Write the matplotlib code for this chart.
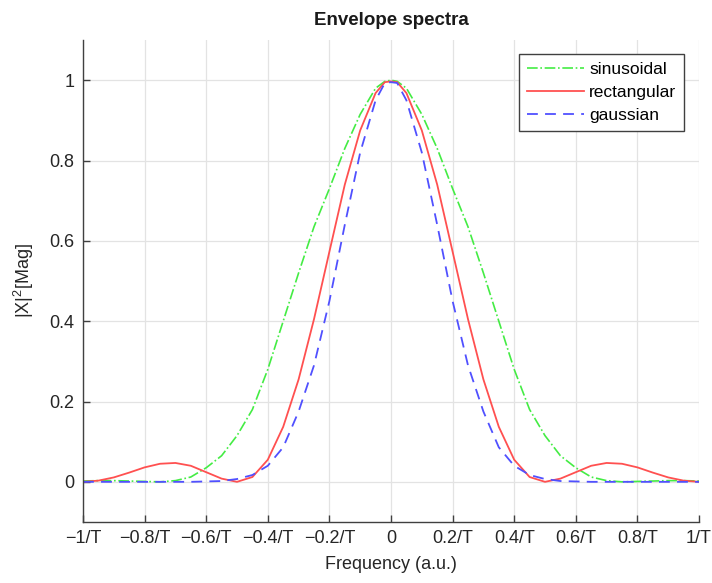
import matplotlib
matplotlib.use("Agg")
import matplotlib.pyplot as plt
import numpy as np

plt.rcParams['font.family'] = ['Liberation Sans', 'DejaVu Sans']
plt.rcParams['mathtext.fontset'] = 'custom'
plt.rcParams['mathtext.rm'] = 'Liberation Sans'
plt.rcParams['mathtext.it'] = 'Liberation Sans'

# frequency samples (units of 1/T)
freq = [-1.0, -0.95, -0.9, -0.85, -0.8, -0.75, -0.7, -0.65, -0.6, -0.55, -0.5,
        -0.45, -0.4, -0.35, -0.3, -0.25, -0.2, -0.15, -0.1, -0.05, -0.02, 0.0, 0.02,
        0.05, 0.1, 0.15, 0.2, 0.25, 0.3, 0.35, 0.4, 0.45, 0.5,
        0.55, 0.6, 0.65, 0.7, 0.75, 0.8, 0.85, 0.9, 0.95, 1.0]

sinusoidal = [0.002, 0.003, 0.003, 0.002, 0.001, 0.0, 0.003, 0.012, 0.035, 0.065, 0.115,
              0.18, 0.28, 0.40, 0.52, 0.635, 0.73, 0.83, 0.915, 0.98, 0.997, 1.0, 0.997,
              0.98, 0.915, 0.83, 0.73, 0.635, 0.52, 0.40, 0.28, 0.18, 0.115,
              0.065, 0.035, 0.012, 0.003, 0.0, 0.001, 0.002, 0.003, 0.003, 0.002]

rectangular = [0.0, 0.003, 0.011, 0.023, 0.036, 0.045, 0.047, 0.04, 0.024, 0.008, 0.0,
               0.012, 0.055, 0.137, 0.255, 0.405, 0.573, 0.74, 0.875, 0.968, 0.995, 0.997, 0.995,
               0.968, 0.875, 0.74, 0.573, 0.405, 0.255, 0.137, 0.055, 0.012, 0.0,
               0.008, 0.024, 0.04, 0.047, 0.045, 0.036, 0.023, 0.011, 0.003, 0.0]

gaussian = [0.0, 0.0, 0.0, 0.0, 0.0, 0.0, 0.0, 0.0, 0.001, 0.002, 0.007,
            0.017, 0.04, 0.086, 0.175, 0.29, 0.45, 0.64, 0.82, 0.95, 0.993, 0.995, 0.993,
            0.95, 0.82, 0.64, 0.45, 0.29, 0.175, 0.086, 0.04, 0.017, 0.007,
            0.002, 0.001, 0.0, 0.0, 0.0, 0.0, 0.0, 0.0, 0.0, 0.0]

xtick_vals = [-1, -0.8, -0.6, -0.4, -0.2, 0, 0.2, 0.4, 0.6, 0.8, 1]
xtick_labels = ['\u22121/T', '\u22120.8/T', '\u22120.6/T', '\u22120.4/T', '\u22120.2/T', '0',
                '0.2/T', '0.4/T', '0.6/T', '0.8/T', '1/T']
ytick_vals = [0, 0.2, 0.4, 0.6, 0.8, 1]
ytick_labels = ['0', '0.2', '0.4', '0.6', '0.8', '1']

fig = plt.figure(figsize=(7.12, 5.83), dpi=100)
ax = fig.add_axes([83/712, 61/583, 616/712, 482/583])

ax.plot(freq, sinusoidal, linestyle='-.', color='#44ec44', lw=1.2, label='sinusoidal')
ax.plot(freq, rectangular, linestyle='-', color='#ff5050', lw=1.3, label='rectangular')
ax.plot(freq, gaussian, linestyle=(0, (6, 4)), color='#5050ff', lw=1.3, label='gaussian')

ax.set_xlim(-1, 1)
ax.set_ylim(-0.1, 1.1)
ax.set_xticks(xtick_vals)
ax.set_xticklabels(xtick_labels)
ax.set_yticks(ytick_vals)
ax.set_yticklabels(ytick_labels)

ax.grid(True, color='#e3e3e3', lw=0.9)
ax.set_axisbelow(True)
for s in ['top', 'right']:
    ax.spines[s].set_visible(False)
for s in ['left', 'bottom']:
    ax.spines[s].set_color('#404040')
    ax.spines[s].set_linewidth(1.0)
ax.tick_params(direction='in', length=5, width=1.0, color='#404040',
               labelsize=13, labelcolor='#262626', pad=6)

ax.set_title('Envelope spectra', fontsize=13.5, fontweight='bold', color='#1a1a1a', pad=11)
ax.set_xlabel('Frequency (a.u.)', fontsize=13, color='#262626', labelpad=6)
ax.set_ylabel('|X|$^{2}$[Mag]', fontsize=13, color='#262626', labelpad=10)

leg = ax.legend(loc='upper right', bbox_to_anchor=(601/616, 468/482), borderaxespad=0,
                fontsize=12.5, handlelength=3.3, frameon=True, fancybox=False,
                edgecolor='#404040', framealpha=1, labelspacing=0.45,
                handletextpad=0.3, borderpad=0.45)
leg.get_frame().set_linewidth(1.0)

fig.savefig('out.png', dpi=100, facecolor='white')
